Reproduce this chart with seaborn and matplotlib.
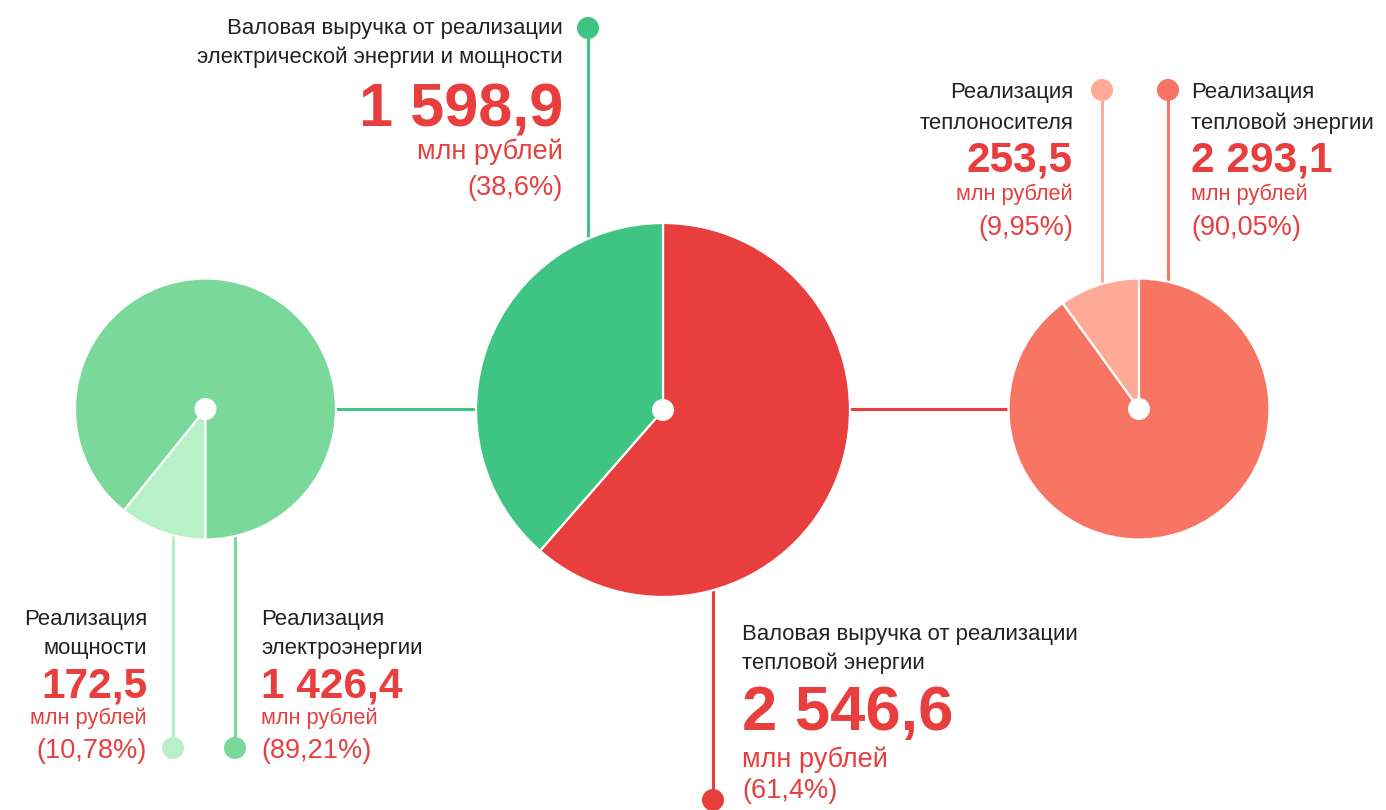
import matplotlib
matplotlib.use("Agg")
import matplotlib.pyplot as plt
from matplotlib.patches import Circle
import seaborn as sns

# ---------------- data ----------------
total_labels = ["Валовая выручка от реализации\nтепловой энергии",
                "Валовая выручка от реализации\nэлектрической энергии и мощности"]
total_values = [2546.6, 1598.9]
total_value_text = ["2 546,6", "1 598,9"]
total_pct_text = ["(61,4%)", "(38,6%)"]

elec_labels = ["Реализация\nмощности", "Реализация\nэлектроэнергии"]
elec_values = [172.5, 1426.4]
elec_value_text = ["172,5", "1 426,4"]
elec_pct_text = ["(10,78%)", "(89,21%)"]

heat_labels = ["Реализация\nтеплоносителя", "Реализация\nтепловой энергии"]
heat_values = [253.5, 2293.1]
heat_value_text = ["253,5", "2 293,1"]
heat_pct_text = ["(9,95%)", "(90,05%)"]

unit = "млн рублей"

# ---------------- style ----------------
sns.set_theme(style="white")
plt.rcParams['font.family'] = ['Liberation Sans', 'DejaVu Sans']

RED = "#E83E3E"
GREEN = "#3EC483"
EL_DARK = "#7AD89B"
EL_LIGHT = "#B8F0C8"
HT_DARK = "#F87463"
HT_LIGHT = "#FFAA97"
TXT = "#222222"

W, H = 1386, 810
fig = plt.figure(figsize=(W / 100, H / 100), dpi=100)
ax = fig.add_axes([0, 0, 1, 1])


def Y(y):
    return H - y


wp = dict(edgecolor="white", linewidth=1.6)

# center pie
cc = (663, Y(410))
ax.pie(total_values, colors=[RED, GREEN], startangle=90, counterclock=False,
       radius=187, center=cc, wedgeprops=wp, frame=True)
# left pie (electricity)
lc = (205.5, Y(409))
ax.pie(elec_values, colors=[EL_LIGHT, EL_DARK], startangle=-90, counterclock=False,
       radius=130.5, center=lc, wedgeprops=wp, frame=True)
# right pie (heat)
rc = (1139, Y(409))
ax.pie(heat_values, colors=[HT_LIGHT, HT_DARK], startangle=90, counterclock=True,
       radius=130.5, center=rc, wedgeprops=wp, frame=True)

# center white dots
for c in [cc, lc, rc]:
    ax.add_patch(Circle(c, 11, facecolor="white", edgecolor="none", zorder=5))

# connectors
lw = 2.2
ax.plot([336, 477], [Y(409), Y(409)], color=GREEN, lw=lw, zorder=0)
ax.plot([850, 1009], [Y(409), Y(409)], color=RED, lw=lw, zorder=0)


def stem(x, y0, y1, color):
    ax.plot([x, x], [Y(y0), Y(y1)], color=color, lw=lw, zorder=0)
    ax.add_patch(Circle((x, Y(y1)), 11, facecolor=color, edgecolor="none", zorder=4))


stem(588, 300, 28, GREEN)
stem(713, 500, 800, RED)
stem(173, 450, 748, EL_LIGHT)
stem(235, 450, 748, EL_DARK)
stem(1102, 350, 90, HT_LIGHT)
stem(1168, 350, 90, HT_DARK)

LFS = 15.9
PFS = 19.5


def block(x, ha, label, label_base, lh, value, vbase, vfs, ubase, ufs, pbase, pct):
    l1, l2 = label.split("\n")
    ax.text(x, Y(label_base), l1, ha=ha, va="baseline", fontsize=LFS, color=TXT)
    ax.text(x, Y(label_base + lh), l2, ha=ha, va="baseline", fontsize=LFS, color=TXT)
    ax.text(x, Y(vbase), value, ha=ha, va="baseline", fontsize=vfs, color=RED,
            fontweight="bold")
    ax.text(x, Y(ubase), unit, ha=ha, va="baseline", fontsize=ufs, color=RED)
    ax.text(x, Y(pbase), pct, ha=ha, va="baseline", fontsize=PFS, color=RED)


# top center (electric total)
block(563, "right", total_labels[1], 34, 29, total_value_text[1], 127, 44, 159, 19.5, 195,
      total_pct_text[1])
# bottom center (heat total)
block(742, "left", total_labels[0], 640, 29, total_value_text[0], 730, 45.5, 767, 19.5, 798,
      total_pct_text[0])
# right side
block(1073, "right", heat_labels[0], 98, 31, heat_value_text[0], 172, 30.5, 200, 15.7, 235,
      heat_pct_text[0])
block(1191, "left", heat_labels[1], 98, 31, heat_value_text[1], 172, 30.5, 200, 15.7, 235,
      heat_pct_text[1])
# bottom left
block(147, "right", elec_labels[0], 625, 29, elec_value_text[0], 698, 30.5, 724, 15.7, 758,
      elec_pct_text[0])
block(261, "left", elec_labels[1], 625, 29, elec_value_text[1], 698, 30.5, 724, 15.7, 758,
      elec_pct_text[1])

ax.set_xlim(0, W)
ax.set_ylim(0, H)
ax.set_aspect("equal")
ax.axis("off")

fig.savefig("out.png", dpi=100, facecolor="white")
